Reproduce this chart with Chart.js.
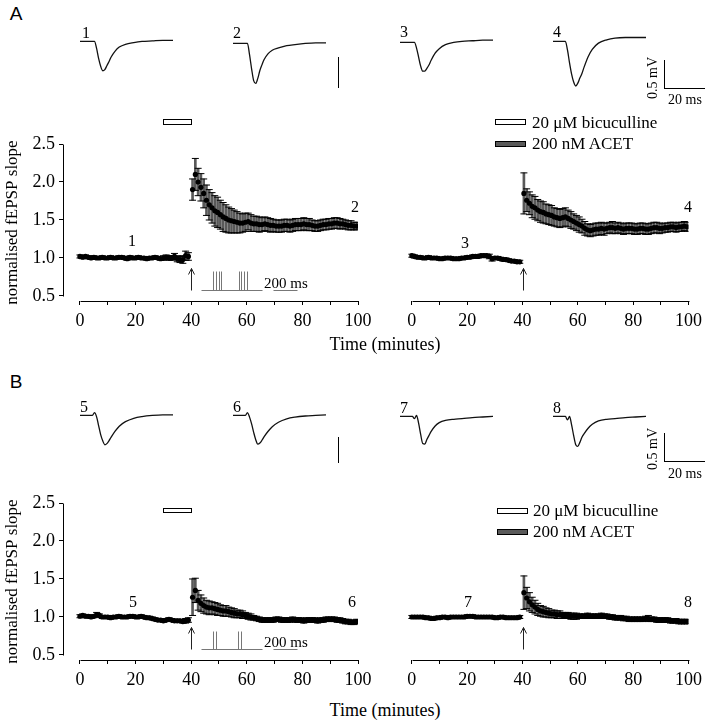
<!DOCTYPE html>
<html>
<head>
<meta charset="utf-8">
<script src="https://cdn.jsdelivr.net/npm/chart.js@4.4.1/dist/chart.umd.min.js"></script>
<style>
body { margin: 0; background: #fff; }
#fig { position: relative; width: 707px; height: 720px; font-family: "Liberation Serif", serif; color: #000; overflow: hidden; }
#fig canvas { position: absolute; }
.t { position: absolute; white-space: nowrap; transform: translate(-50%, -50%); line-height: 1; }
.l { position: absolute; white-space: nowrap; transform: translateY(-50%); line-height: 1; }
.ln { position: absolute; background: #000; }
.box { position: absolute; width: 29px; height: 4px; border: 1px solid #000; }
</style>
</head>
<body>
<div id="fig">
  <div class="t" style="left:16px;top:14px;font:19px 'Liberation Sans',sans-serif;">A</div>
  <div class="t" style="left:16px;top:382px;font:19px 'Liberation Sans',sans-serif;">B</div>

  <canvas id="tr1" width="97" height="66" style="left:78px;top:31px"></canvas>
  <canvas id="tr2" width="97" height="66" style="left:231px;top:33px"></canvas>
  <canvas id="tr3" width="97" height="66" style="left:398px;top:32px"></canvas>
  <canvas id="tr4" width="97" height="66" style="left:551px;top:31px"></canvas>
  <canvas id="tr5" width="97" height="66" style="left:78px;top:405px"></canvas>
  <canvas id="tr6" width="97" height="66" style="left:231px;top:405px"></canvas>
  <canvas id="tr7" width="97" height="66" style="left:398px;top:406px"></canvas>
  <canvas id="tr8" width="97" height="66" style="left:551px;top:406px"></canvas>

  <canvas id="cAL" width="378" height="226" style="left:0;top:110px"></canvas>
  <canvas id="cAR" width="324" height="226" style="left:383px;top:110px"></canvas>
  <canvas id="cBL" width="378" height="226" style="left:0;top:469px"></canvas>
  <canvas id="cBR" width="324" height="226" style="left:383px;top:469px"></canvas>

  <div class="t" style="left:86px;top:33px;font-size:16px">1</div>
  <div class="t" style="left:237px;top:33px;font-size:16px">2</div>
  <div class="t" style="left:404px;top:32px;font-size:16px">3</div>
  <div class="t" style="left:557px;top:32px;font-size:16px">4</div>
  <div class="t" style="left:84px;top:407px;font-size:16px">5</div>
  <div class="t" style="left:237px;top:407px;font-size:16px">6</div>
  <div class="t" style="left:404px;top:408px;font-size:16px">7</div>
  <div class="t" style="left:557px;top:408px;font-size:16px">8</div>

  <div class="ln" style="left:338px;top:57px;width:1px;height:31px"></div>
  <div class="ln" style="left:664px;top:60px;width:1px;height:28px"></div>
  <div class="ln" style="left:664px;top:88px;width:41px;height:1px"></div>
  <div class="t" style="left:653px;top:78px;font-size:14px;transform:translate(-50%,-50%) rotate(-90deg)">0.5 mV</div>
  <div class="t" style="left:685px;top:100px;font-size:14px">20 ms</div>

  <div class="ln" style="left:338px;top:437px;width:1px;height:26px"></div>
  <div class="ln" style="left:664px;top:433px;width:1px;height:28px"></div>
  <div class="ln" style="left:664px;top:461px;width:41px;height:1px"></div>
  <div class="t" style="left:653px;top:449px;font-size:14px;transform:translate(-50%,-50%) rotate(-90deg)">0.5 mV</div>
  <div class="t" style="left:685px;top:474px;font-size:14px">20 ms</div>

  <div class="box" style="left:495px;top:119px;background:#fff"></div>
  <div class="l" style="left:532px;top:122px;font-size:17px">20 μM bicuculline</div>
  <div class="box" style="left:495px;top:141px;background:#5a5a5a"></div>
  <div class="l" style="left:532px;top:143px;font-size:17px">200 nM ACET</div>

  <div class="box" style="left:497px;top:508px;background:#fff"></div>
  <div class="l" style="left:533px;top:510px;font-size:17px">20 μM bicuculline</div>
  <div class="box" style="left:497px;top:529px;background:#5a5a5a"></div>
  <div class="l" style="left:533px;top:531px;font-size:17px">200 nM ACET</div>

  <div class="t" style="left:132px;top:241px;font-size:16px">1</div>
  <div class="t" style="left:355px;top:207px;font-size:16px">2</div>
  <div class="t" style="left:465px;top:243px;font-size:16px">3</div>
  <div class="t" style="left:688px;top:207px;font-size:16px">4</div>
  <div class="t" style="left:133px;top:602px;font-size:16px">5</div>
  <div class="t" style="left:352px;top:602px;font-size:16px">6</div>
  <div class="t" style="left:468px;top:602px;font-size:16px">7</div>
  <div class="t" style="left:688px;top:602px;font-size:16px">8</div>

  <div class="t" style="left:286px;top:283px;font-size:15px">200 ms</div>
  <div class="t" style="left:286px;top:642px;font-size:15px">200 ms</div>

  <div class="t" style="left:385px;top:344px;font-size:18px">Time (minutes)</div>
  <div class="t" style="left:385px;top:710px;font-size:18px">Time (minutes)</div>
</div>

<script>
Chart.defaults.font.family = "'Liberation Serif', serif";
Chart.defaults.color = '#000';

// ---- time axis / ticks ----
const xTicks = [0, 10, 20, 30, 40, 50, 60, 70, 80, 90, 100];
const yTicks = [0.5, 1.0, 1.5, 2.0, 2.5];
const baseTimes = Array.from({ length: 40 }, (_, i) => i);         // minutes 0..39
const postTimes = Array.from({ length: 60 }, (_, i) => 40.5 + i);  // minutes 40.5..99.5
const drugWindow = [30, 40];   // bicuculline application
const arrowTime = 40;          // induction
const tbsA = [47.9, 48.9, 49.9, 50.8, 57.1, 58.0, 59.0, 60.0];
const tbsB = [47.9, 48.9, 56.9, 57.8];

// ---- panel A, left ----
const aL_base = [1.02,1.01,1.02,1.01,1.00,1.01,1.00,1.00,1.01,1.00, 1.00,1.01,1.00,1.00,1.01,1.01,1.00,0.99,1.01,1.00,
                 1.00,1.01,1.00,1.00,0.99,1.00,1.00,1.01,1.00,0.99, 1.00,1.01,1.00,1.00,1.02,0.99,0.98,0.98,1.03,1.02];
const aL_baseErr = [0.02,0.02,0.02,0.02,0.02,0.02,0.02,0.02,0.02,0.02, 0.02,0.02,0.02,0.02,0.02,0.02,0.02,0.02,0.02,0.02,
                    0.02,0.02,0.02,0.02,0.02,0.02,0.02,0.02,0.02,0.02, 0.03,0.03,0.03,0.03,0.04,0.04,0.04,0.05,0.06,0.05];
const aL_post = [1.90,2.10,2.00,1.93,1.85,1.76,1.70,1.66,1.62,1.60, 1.57,1.54,1.52,1.50,1.49,1.48,1.47,1.46,1.46,1.47,
                 1.48,1.46,1.45,1.45,1.44,1.44,1.45,1.44,1.43,1.43, 1.42,1.42,1.42,1.43,1.43,1.42,1.43,1.44,1.44,1.44,
                 1.45,1.44,1.44,1.43,1.42,1.42,1.43,1.44,1.44,1.45, 1.45,1.46,1.46,1.45,1.45,1.44,1.43,1.43,1.42,1.42];
const aL_postErr = [0.14,0.21,0.18,0.18,0.19,0.20,0.20,0.20,0.20,0.20, 0.19,0.19,0.18,0.17,0.16,0.15,0.14,0.13,0.12,0.12,
                    0.11,0.11,0.10,0.10,0.10,0.09,0.09,0.09,0.09,0.08, 0.08,0.08,0.08,0.08,0.08,0.08,0.08,0.08,0.08,0.08,
                    0.08,0.08,0.08,0.07,0.07,0.07,0.07,0.07,0.07,0.07, 0.07,0.07,0.07,0.07,0.06,0.06,0.06,0.06,0.05,0.05];

// ---- panel A, right ----
const aR_base = [1.03,1.02,1.01,1.01,1.00,1.00,1.01,1.00,1.00,1.00, 0.99,0.99,1.00,1.00,1.00,0.99,0.99,0.99,1.00,1.00,
                 1.01,1.01,1.02,1.02,1.02,1.03,1.03,1.03,1.02,0.99, 1.00,1.00,0.99,0.98,0.98,0.97,0.96,0.96,0.95,0.95];
const aR_baseErr = [0.02,0.02,0.02,0.02,0.02,0.02,0.02,0.02,0.02,0.02, 0.02,0.02,0.02,0.02,0.02,0.02,0.02,0.02,0.02,0.02,
                    0.02,0.02,0.02,0.02,0.02,0.02,0.02,0.02,0.03,0.03, 0.02,0.02,0.02,0.02,0.02,0.02,0.02,0.02,0.02,0.02];
const aR_post = [1.85,1.76,1.72,1.68,1.66,1.63,1.61,1.60,1.58,1.57, 1.56,1.54,1.53,1.52,1.53,1.54,1.52,1.50,1.48,1.46,
                 1.44,1.42,1.39,1.37,1.36,1.37,1.38,1.38,1.39,1.38, 1.39,1.40,1.40,1.39,1.40,1.39,1.38,1.39,1.39,1.39,
                 1.38,1.38,1.39,1.39,1.38,1.38,1.39,1.40,1.40,1.39, 1.39,1.40,1.40,1.41,1.41,1.40,1.41,1.41,1.42,1.41];
const aR_postErr = [0.27,0.15,0.15,0.15,0.15,0.14,0.14,0.14,0.13,0.13, 0.13,0.12,0.12,0.12,0.12,0.12,0.11,0.11,0.10,0.10,
                    0.10,0.09,0.09,0.08,0.08,0.08,0.08,0.08,0.08,0.08, 0.07,0.07,0.08,0.07,0.07,0.07,0.07,0.07,0.07,0.07,
                    0.07,0.07,0.07,0.07,0.07,0.07,0.07,0.07,0.07,0.07, 0.06,0.06,0.06,0.06,0.06,0.06,0.06,0.06,0.06,0.06];

// ---- panel B, left ----
const bL_base = [1.01,1.02,1.01,1.01,1.00,1.01,1.03,1.02,1.00,1.00, 1.00,0.99,1.00,1.00,1.01,1.00,1.00,1.00,1.01,1.01,
                 1.00,1.00,1.01,1.00,0.99,0.99,0.98,0.97,0.96,0.96, 0.95,0.96,0.97,0.96,0.95,0.95,0.95,0.94,0.95,0.96];
const bL_baseErr = [0.02,0.02,0.02,0.02,0.02,0.02,0.03,0.02,0.02,0.02, 0.02,0.02,0.02,0.02,0.02,0.02,0.02,0.02,0.02,0.02,
                    0.02,0.02,0.02,0.02,0.02,0.02,0.02,0.02,0.02,0.02, 0.02,0.02,0.02,0.02,0.02,0.02,0.02,0.02,0.03,0.03];
const bL_post = [1.26,1.35,1.22,1.18,1.15,1.13,1.12,1.12,1.11,1.10, 1.09,1.08,1.08,1.07,1.06,1.05,1.04,1.04,1.03,1.02,
                 1.01,1.00,0.99,0.98,0.97,0.96,0.96,0.96,0.96,0.96, 0.97,0.97,0.96,0.96,0.96,0.96,0.97,0.96,0.96,0.96,
                 0.95,0.96,0.96,0.96,0.96,0.95,0.96,0.96,0.97,0.97, 0.97,0.97,0.96,0.96,0.95,0.94,0.94,0.93,0.93,0.94];
const bL_postErr = [0.24,0.16,0.13,0.11,0.10,0.09,0.09,0.08,0.08,0.08, 0.07,0.07,0.07,0.06,0.06,0.06,0.05,0.05,0.05,0.04,
                    0.04,0.04,0.03,0.03,0.03,0.03,0.03,0.03,0.03,0.03, 0.03,0.03,0.03,0.03,0.03,0.03,0.03,0.03,0.03,0.03,
                    0.03,0.03,0.03,0.03,0.03,0.03,0.03,0.03,0.03,0.03, 0.03,0.03,0.03,0.03,0.03,0.03,0.03,0.03,0.03,0.03];

// ---- panel B, right ----
const bR_base = [1.00,1.00,1.00,1.00,1.00,0.99,0.99,0.98,0.98,0.99, 0.99,1.00,1.00,0.99,1.00,1.00,1.00,1.00,1.00,1.00,
                 1.01,1.01,1.01,1.00,1.00,1.00,1.00,1.00,1.00,1.00, 0.99,0.99,1.00,1.00,0.99,0.99,0.99,0.99,0.99,1.00];
const bR_baseErr = [0.02,0.02,0.02,0.02,0.02,0.02,0.02,0.02,0.02,0.02, 0.02,0.02,0.02,0.02,0.02,0.02,0.02,0.02,0.02,0.02,
                    0.02,0.02,0.02,0.02,0.02,0.02,0.02,0.02,0.02,0.02, 0.02,0.02,0.02,0.02,0.02,0.02,0.02,0.02,0.02,0.02];
const bR_post = [1.32,1.25,1.20,1.16,1.13,1.10,1.08,1.07,1.06,1.05, 1.04,1.04,1.03,1.03,1.02,1.02,1.02,1.01,1.01,1.01,
                 1.01,1.01,1.01,1.02,1.01,1.01,1.01,1.01,1.02,1.01, 1.01,1.00,1.00,0.99,0.99,0.99,0.98,0.98,0.97,0.97,
                 0.97,0.97,0.97,0.97,0.98,0.98,0.97,0.97,0.96,0.96, 0.96,0.96,0.96,0.95,0.95,0.95,0.94,0.94,0.94,0.94];
const bR_postErr = [0.22,0.14,0.12,0.10,0.09,0.08,0.07,0.07,0.06,0.06, 0.05,0.05,0.05,0.05,0.04,0.04,0.04,0.04,0.04,0.04,
                    0.03,0.03,0.03,0.03,0.03,0.03,0.03,0.03,0.03,0.03, 0.03,0.03,0.03,0.03,0.03,0.03,0.03,0.03,0.03,0.03,
                    0.03,0.03,0.03,0.03,0.03,0.04,0.03,0.03,0.03,0.03, 0.03,0.03,0.03,0.03,0.03,0.03,0.03,0.03,0.03,0.03];

// ---- example fEPSP traces (ms, mV) ----
const traceT = [0, 6, 7, 8, 9, 10, 11, 12, 13, 14, 15, 17, 19, 22, 26, 30, 35, 40, 45];
const trace1 = [0,0,0,-0.12,-0.30,-0.44,-0.52,-0.50,-0.43,-0.36,-0.28,-0.17,-0.10,-0.05,-0.02,0.00,0.01,0.02,0.02];
const trace2 = [0,0,0,-0.20,-0.45,-0.66,-0.71,-0.62,-0.48,-0.38,-0.29,-0.18,-0.12,-0.08,-0.04,-0.02,0.00,0.01,0.01];
const trace3 = [0,0,0,-0.10,-0.26,-0.42,-0.51,-0.51,-0.46,-0.40,-0.32,-0.19,-0.11,-0.04,0.00,0.02,0.03,0.04,0.04];
const trace4 = [0,0,-0.15,-0.38,-0.58,-0.72,-0.79,-0.74,-0.65,-0.57,-0.46,-0.27,-0.14,-0.03,0.03,0.06,0.07,0.07,0.07];
const trace5 = [0,0,0.05,-0.02,-0.18,-0.34,-0.45,-0.52,-0.50,-0.45,-0.39,-0.28,-0.19,-0.11,-0.05,-0.02,0.00,0.01,0.01];
const trace6 = [0,0,0.05,-0.03,-0.15,-0.30,-0.43,-0.51,-0.49,-0.44,-0.38,-0.28,-0.20,-0.12,-0.06,-0.03,-0.01,0.00,0.01];
const trace7 = [0,0,-0.04,0.02,-0.12,-0.32,-0.48,-0.49,-0.41,-0.34,-0.27,-0.17,-0.11,-0.07,-0.05,-0.04,-0.02,-0.01,0.00];
const trace8 = [0,0,-0.06,0.00,-0.15,-0.34,-0.50,-0.53,-0.46,-0.37,-0.31,-0.21,-0.14,-0.08,-0.05,-0.04,-0.02,-0.01,0.00];

function seg(ctx, x0, y0, x1, y1) {
    ctx.beginPath();
    ctx.moveTo(x0, y0);
    ctx.lineTo(x1, y1);
    ctx.stroke();
}

// axis lines, drug bar, arrow and burst sketch
const decor = {
    id: 'decor',
    afterDraw(chart, args, o) {
        const { ctx, chartArea: a, scales: { x, y } } = chart;
        const px = v => Math.round(x.getPixelForValue(v)) + 0.5;
        const py = v => Math.round(y.getPixelForValue(v)) + 0.5;
        ctx.save();
        ctx.lineWidth = 1;
        ctx.strokeStyle = '#000';
        seg(ctx, px(0), Math.round(a.bottom) + 0.5, px(100), Math.round(a.bottom) + 0.5);
        if (o.yLine) {
            const lx = Math.round(a.left) + 0.5;
            seg(ctx, lx, py(0.5), lx, py(2.5));
        }
        // arrow
        const ax = px(arrowTime), top = py(0.87), bot = py(0.58);
        ctx.strokeStyle = '#222';
        seg(ctx, ax, bot, ax, top);
        seg(ctx, ax - 3, top + 6, ax, top);
        seg(ctx, ax + 3, top + 6, ax, top);
        if (o.drug) {
            const x0 = px(drugWindow[0]), x1 = px(drugWindow[1]);
            const y0 = py(o.drug[1]), y1 = py(o.drug[0]);
            ctx.fillStyle = '#fff';
            ctx.fillRect(x0, y0, x1 - x0, y1 - y0);
            ctx.strokeStyle = '#000';
            ctx.strokeRect(x0, y0, x1 - x0, y1 - y0);
        }
        if (o.tbs) {
            ctx.strokeStyle = '#777';
            seg(ctx, px(43.5), py(0.58), px(65.5), py(0.58));
            o.tbs.forEach(t => seg(ctx, px(t), py(0.58), px(t), py(o.tbsTop)));
            seg(ctx, px(69.4), py(0.58), px(78.1), py(0.58));
        }
        ctx.restore();
    }
};

function course(id, base, baseErr, post, postErr, opts) {
    const t = baseTimes.concat(postTimes);
    const m = base.concat(post);
    const e = baseErr.concat(postErr);
    const pts = t.map((v, i) => ({ x: v, y: m[i] }));
    const caps = [];
    t.forEach((v, i) => { caps.push({ x: v, y: m[i] + e[i] }, { x: v, y: m[i] - e[i] }); });
    const bars = t.map((v, i) => ({ x: v, y: [m[i] - e[i], m[i] + e[i]] }));

    return new Chart(document.getElementById(id), {
        type: 'scatter',
        data: {
            datasets: [
                { data: pts, pointRadius: 2.6, pointBackgroundColor: '#000', pointBorderWidth: 0, order: 0 },
                { data: caps, pointStyle: 'line', pointRadius: 3.5, pointBorderColor: '#000', pointBorderWidth: 1, order: 1 },
                { type: 'bar', data: bars, backgroundColor: '#595959', barThickness: 2, order: 2 }
            ]
        },
        options: {
            responsive: false,
            animation: false,
            events: [],
            layout: { padding: { top: 34, bottom: 0, left: opts.padL, right: opts.padR } },
            plugins: {
                legend: { display: false },
                tooltip: { enabled: false },
                decor: opts
            },
            scales: {
                x: {
                    type: 'linear', min: -6.1, max: 100, offset: false,
                    afterFit: s => { s.height = 35; },
                    afterBuildTicks: s => { s.ticks = xTicks.map(v => ({ value: v })); },
                    ticks: { autoSkip: false, maxRotation: 0, padding: 5, font: { size: 18 },
                             callback: v => (v % 20 === 0 ? v : '') },
                    grid: { drawOnChartArea: false, drawTicks: true, tickLength: 4, color: '#000', offset: false },
                    border: { display: false }
                },
                y: {
                    display: opts.yLine, min: 0.434, max: 2.5,
                    afterFit: s => { if (opts.yLine) s.width = 63; },
                    afterBuildTicks: s => { s.ticks = yTicks.map(v => ({ value: v })); },
                    ticks: { padding: 4, font: { size: 18 }, callback: v => v.toFixed(1) },
                    grid: { drawOnChartArea: false, tickLength: 4, color: '#000' },
                    border: { display: false },
                    title: { display: true, text: 'normalised fEPSP slope', font: { size: 17 }, padding: { top: 2, bottom: 0 } }
                }
            }
        },
        plugins: [decor]
    });
}

function trace(id, vals) {
    return new Chart(document.getElementById(id), {
        type: 'line',
        data: { datasets: [{ data: traceT.map((t, i) => ({ x: t, y: vals[i] })),
                             borderColor: '#111', borderWidth: 1.3, pointRadius: 0,
                             cubicInterpolationMode: 'monotone' }] },
        options: {
            responsive: false, animation: false, events: [],
            layout: { padding: 2 },
            plugins: { legend: { display: false }, tooltip: { enabled: false } },
            scales: {
                x: { type: 'linear', min: 0, max: 45, display: false },
                y: { min: -0.95, max: 0.15, display: false }
            }
        }
    });
}

course('cAL', aL_base, aL_baseErr, aL_post, aL_postErr,
       { padL: 0, padR: 20, yLine: true, drug: [2.76, 2.83], tbs: tbsA, tbsTop: 0.83 });
course('cAR', aR_base, aR_baseErr, aR_post, aR_postErr,
       { padL: 12, padR: 17, yLine: false });
course('cBL', bL_base, bL_baseErr, bL_post, bL_postErr,
       { padL: 0, padR: 20, yLine: true, drug: [2.38, 2.44], tbs: tbsB, tbsTop: 0.82 });
course('cBR', bR_base, bR_baseErr, bR_post, bR_postErr,
       { padL: 12, padR: 17, yLine: false });

trace('tr1', trace1); trace('tr2', trace2); trace('tr3', trace3); trace('tr4', trace4);
trace('tr5', trace5); trace('tr6', trace6); trace('tr7', trace7); trace('tr8', trace8);
</script>
</body>
</html>
